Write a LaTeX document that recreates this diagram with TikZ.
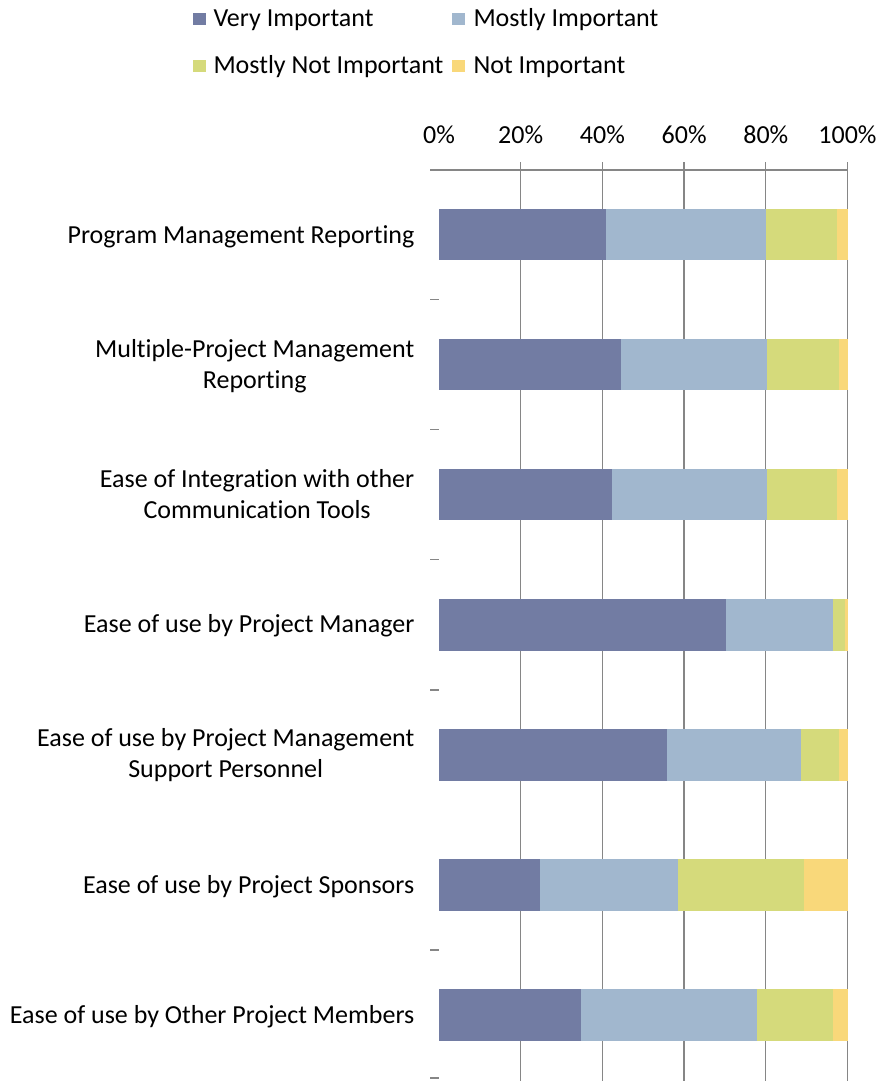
\documentclass[tikz,border=0pt]{standalone}
\usepackage{fontspec}
\setmainfont{Carlito}[Ligatures={NoCommon}]
\definecolor{cVI}{RGB}{114,124,163}
\definecolor{cMI}{RGB}{161,183,206}
\definecolor{cMNI}{RGB}{213,218,123}
\definecolor{cNI}{RGB}{249,216,122}
\definecolor{gridc}{RGB}{134,134,134}
\begin{document}
\begin{tikzpicture}[x=1pt,y=-1pt,
  lbl/.style={anchor=east, align=center, inner sep=0pt, font=\fontsize{26}{31}\selectfont},
  axlbl/.style={anchor=base, inner sep=0pt, font=\fontsize{26}{31}\selectfont},
  leg/.style={anchor=base west, inner sep=0pt, font=\fontsize{26}{31}\selectfont},
  legsq/.style={anchor=north west, inner sep=0pt, minimum size=12.6pt, draw=none},
  gridline/.style={draw=gridc, line width=1.3pt},
  axisline/.style={draw=gridc, line width=2pt}]
\useasboundingbox (0,0) rectangle (882,1081);
% legend
\node[legsq, fill=cVI] (sq1) at (192.7,12.4) {};
\node[leg] (t1) at (213.3,26.5) {Very Important};
\node[legsq, fill=cMI] (sq2) at (452,12.4) {};
\node[leg] (t2) at (473.3,26.5) {Mostly Important};
\node[legsq, fill=cMNI] (sq3) at (192.7,59.5) {};
\node[leg] (t3) at (213.3,73.5) {Mostly Not Important};
\node[legsq, fill=cNI] (sq4) at (452,59.5) {};
\node[leg] (t4) at (473.3,73.5) {Not Important};
% axis labels
\foreach \k in {0,...,5}{
  \pgfmathtruncatemacro{\pc}{20*\k}
  \node[axlbl] (ax\k) at ({439+81.7*\k},143.5) {\pc\%};
}
% gridlines
\foreach \k in {1,...,5}{
  \draw[gridline] ({439+81.7*\k},162) -- ({439+81.7*\k},1081);
}
\draw[axisline] (430,170) -- (847.5,170);
% category ticks
\foreach \y in {299.6,429.7,559.8,689.9,1078}{
  \draw[gridline] (430,\y) -- (439,\y);
}
\draw[axisline] (430,950) -- (439,950);
% bars
\foreach \i/\a/\b/\c in {1/40.9/80.0/97.4, 2/44.6/80.3/97.9, 3/42.4/80.2/97.4, 4/70.3/96.4/99.3, 5/55.8/88.6/97.9, 6/24.7/58.5/89.4, 7/34.8/77.8/96.4}{
  \pgfmathsetmacro{\yc}{234.5+130.08*(\i-1)}
  \fill[cVI] (439,{\yc-25.8}) rectangle ({439+4.085*\a},{\yc+25.8});
  \fill[cMI] ({439+4.085*\a},{\yc-25.8}) rectangle ({439+4.085*\b},{\yc+25.8});
  \fill[cMNI] ({439+4.085*\b},{\yc-25.8}) rectangle ({439+4.085*\c},{\yc+25.8});
  \fill[cNI] ({439+4.085*\c},{\yc-25.8}) rectangle (847.5,{\yc+25.8});
}
% category labels
\node[lbl] (c1) at (414.5,236.5) {Program Management Reporting};
\node[lbl] (c2) at (414.5,366.6) {Multiple-Project Management\\Reporting};
\node[lbl] (c3) at (414.5,494.2) {Ease of Integration with other\\Communication Tools};
\node[lbl] (c4) at (414.5,626) {Ease of use by Project Manager};
\node[lbl] (c5) at (414.5,755) {Ease of use by Project Management\\Support Personnel};
\node[lbl] (c6) at (414.5,886.9) {Ease of use by Project Sponsors};
\node[lbl] (c7) at (414.5,1017) {Ease of use by Other Project Members};
\end{tikzpicture}
\end{document}
